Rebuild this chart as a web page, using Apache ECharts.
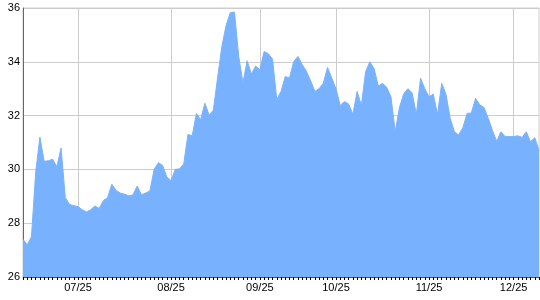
<!DOCTYPE html>
<html>
<head>
<meta charset="utf-8">
<script src="https://cdn.jsdelivr.net/npm/echarts@6/dist/echarts.min.js"></script>
<style>html,body{margin:0;padding:0;background:#fff}#c{width:540px;height:300px}</style>
</head>
<body>
<div id="c"></div>
<script>
// x-axis month labels and the trading-day index where each appears
const tickLabels = ['07/25', '08/25', '09/25', '10/25', '11/25', '12/25'];
const tickIndex = [13, 35, 56, 74, 96, 116];

// daily values (one per trading day)
const values = [
  27.4, 27.2, 27.5, 29.9, 31.2, 30.3, 30.32, 30.38, 30.1, 30.8,
  28.95, 28.7, 28.65, 28.62, 28.5, 28.42, 28.5, 28.64, 28.55, 28.84,
  28.95, 29.45, 29.22, 29.12, 29.08, 29.02, 29.05, 29.38, 29.06, 29.12,
  29.2, 30.0, 30.25, 30.15, 29.72, 29.58, 30.0, 30.02, 30.2, 31.3,
  31.25, 32.08, 31.85, 32.46, 32.02, 32.2, 33.4, 34.55, 35.35, 35.82,
  35.85, 34.2, 33.22, 34.04, 33.55, 33.84, 33.7, 34.38, 34.3, 34.1,
  32.6, 32.9, 33.45, 33.4, 34.0, 34.2, 33.9, 33.65, 33.3, 32.9,
  33.0, 33.2, 33.79, 33.4, 33.0, 32.38, 32.52, 32.43, 32.05, 32.9,
  32.38, 33.63, 34.0, 33.75, 33.1, 33.2, 33.05, 32.7, 31.4, 32.3,
  32.8, 33.0, 32.85, 32.05, 33.39, 33.0, 32.7, 32.8, 32.05, 33.2,
  32.8, 31.9, 31.4, 31.28, 31.55, 32.08, 32.1, 32.64, 32.4, 32.3,
  31.9, 31.45, 31.05, 31.4, 31.22, 31.22, 31.22, 31.25, 31.19, 31.4,
  31.03, 31.18, 30.7
];

const yMin = 26, yMax = 36, yStep = 2;

const categories = values.map((_, i) => String(i));
const labelAt = {};
tickIndex.forEach((idx, k) => { labelAt[idx] = tickLabels[k]; });
const isTick = (i) => labelAt[i] !== undefined;

const font = 'Liberation Sans, Arial, sans-serif';
const chart = echarts.init(document.getElementById('c'), null, {renderer: 'canvas'});
chart.setOption({
  animation: false,
  grid: {left: 23, right: 1, top: 8, bottom: 23, show: true, borderColor: '#cccccc', borderWidth: 1, containLabel: false},
  xAxis: {
    type: 'category',
    boundaryGap: false,
    data: categories,
    axisLine: {show: true, lineStyle: {color: '#555555', width: 1}},
    axisTick: {show: true, interval: 0, length: 3, lineStyle: {color: '#000000'}},
    axisLabel: {
      interval: (i) => isTick(i),
      formatter: (v, i) => labelAt[i] || '',
      margin: 5,
      fontSize: 11,
      fontFamily: font,
      color: '#000000'
    },
    splitLine: {show: true, interval: (i) => isTick(i), lineStyle: {color: '#cccccc', width: 1}}
  },
  yAxis: {
    type: 'value',
    min: yMin,
    max: yMax,
    interval: yStep,
    axisLine: {show: true, lineStyle: {color: '#666666', width: 1}},
    axisTick: {show: false},
    axisLabel: {margin: 3, fontSize: 11, fontFamily: font, color: '#000000'},
    splitLine: {show: true, lineStyle: {color: '#cccccc', width: 1}}
  },
  series: [{
    type: 'line',
    data: values,
    symbol: 'none',
    showSymbol: false,
    smooth: false,
    lineStyle: {color: '#78b2ff', width: 1},
    areaStyle: {color: '#78b2ff', opacity: 1},
    z: 3
  }]
});
</script>
</body>
</html>
